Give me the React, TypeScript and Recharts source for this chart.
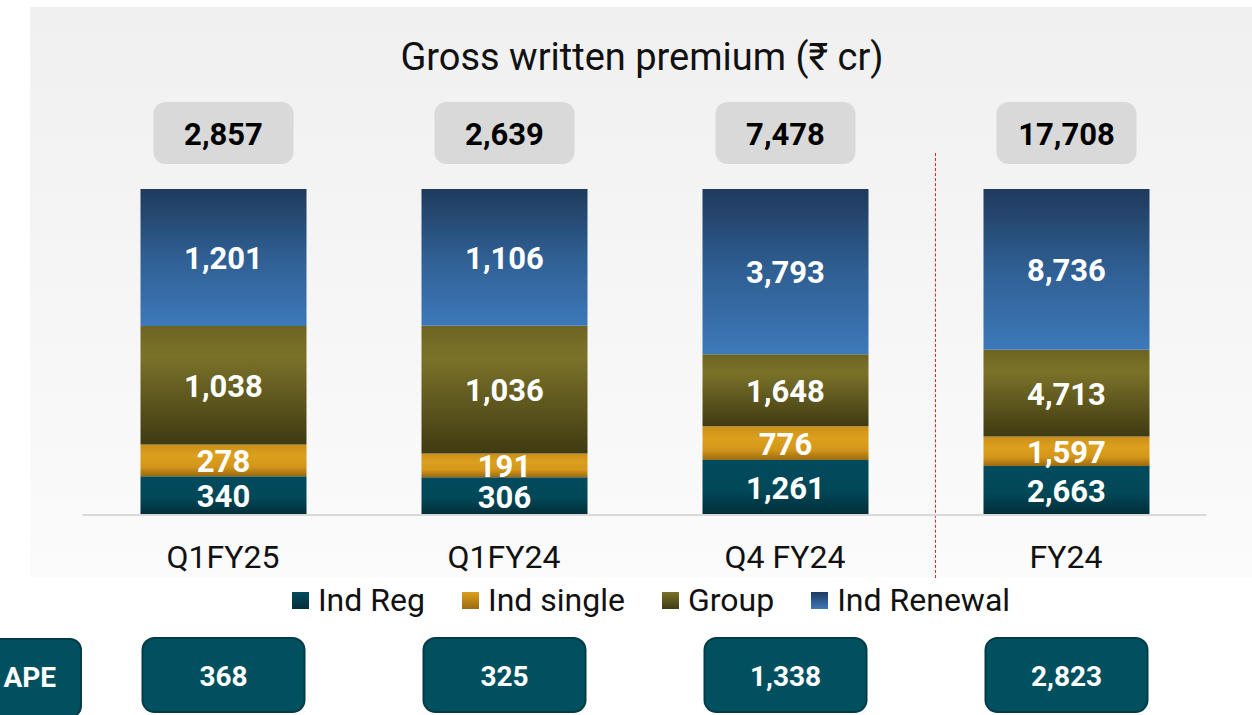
import { Bar, BarChart, LabelList, Legend, XAxis, YAxis } from 'recharts';

const CATEGORIES = ['Q1FY25', 'Q1FY24', 'Q4 FY24', 'FY24'];
const IND_REG = [340, 306, 1261, 2663];
const IND_SINGLE = [278, 191, 776, 1597];
const GROUP = [1038, 1036, 1648, 4713];
const IND_RENEWAL = [1201, 1106, 3793, 8736];
const TOTALS = [2857, 2639, 7478, 17708];
const APE = [368, 325, 1338, 2823];

const SERIES = [
  { key: 'indReg', name: 'Ind Reg', grad: 'gReg', values: IND_REG, css: 'linear-gradient(#024b5c, #012f3b)' },
  { key: 'indSingle', name: 'Ind single', grad: 'gSingle', values: IND_SINGLE, css: 'linear-gradient(#dca01e, #9c6a0f)' },
  { key: 'group', name: 'Group', grad: 'gGroup', values: GROUP, css: 'linear-gradient(#7b7229, #3f3a12)' },
  { key: 'indRenewal', name: 'Ind Renewal', grad: 'gRenewal', values: IND_RENEWAL, css: 'linear-gradient(#1f3b5e, #3d79b9)' },
];

const chartData = CATEGORIES.map((name, i) => ({
  name,
  indReg: IND_REG[i],
  indSingle: IND_SINGLE[i],
  group: GROUP[i],
  indRenewal: IND_RENEWAL[i],
}));

const fmt = (v: number) => v.toLocaleString('en-US');

const segmentLabel = (values: number[]) => (props: any) => {
  const vb = props.viewBox ?? props;
  const v = values[props.index] ?? props.value;
  return (
    <text
      x={vb.x + vb.width / 2}
      y={vb.y + vb.height / 2 + 1}
      textAnchor="middle"
      dominantBaseline="central"
      fill="#fff"
      fontSize={31}
      fontWeight={700}
    >
      {fmt(v)}
    </text>
  );
};

const totalLabel = (props: any) => {
  const vb = props.viewBox ?? props;
  const cx = vb.x + vb.width / 2;
  return (
    <g>
      <rect x={cx - 70} y={vb.y - 87} width={140} height={62} rx={12} fill="#d9d9d9" />
      <text
        x={cx}
        y={vb.y - 55}
        textAnchor="middle"
        dominantBaseline="central"
        fill="#000"
        fontSize={31}
        fontWeight={700}
      >
        {fmt(TOTALS[props.index])}
      </text>
    </g>
  );
};

const apeLabel = (props: any) => {
  const vb = props.viewBox ?? props;
  const cx = vb.x + vb.width / 2;
  const bottom = vb.y + vb.height;
  return (
    <g>
      <rect
        x={cx - 81}
        y={bottom + 123}
        width={162}
        height={74}
        rx={12}
        fill="#01505f"
        stroke="#003c48"
        strokeWidth={2}
      />
      <text
        x={cx}
        y={bottom + 161}
        textAnchor="middle"
        dominantBaseline="central"
        fill="#fff"
        fontSize={28}
        fontWeight={700}
      >
        {fmt(APE[props.index])}
      </text>
    </g>
  );
};

function LegendBox() {
  return (
    <div
      style={{
        display: 'flex',
        justifyContent: 'center',
        alignItems: 'center',
        height: 40,
        paddingLeft: 50,
        fontSize: 32,
        color: '#111',
      }}
    >
      {SERIES.map((s, i) => (
        <div
          key={s.key}
          style={{ display: 'flex', alignItems: 'center', marginRight: i < SERIES.length - 1 ? 37 : 0 }}
        >
          <span style={{ width: 17, height: 17, background: s.css, marginRight: 9, display: 'inline-block' }} />
          <span>{s.name}</span>
        </div>
      ))}
    </div>
  );
}

export default function App() {
  return (
    <div
      style={{
        position: 'absolute',
        left: 0,
        top: 0,
        width: 1252,
        height: 715,
        overflow: 'hidden',
        background: '#fff',
        fontFamily: 'Roboto, sans-serif',
      }}
    >
      <div
        style={{
          position: 'absolute',
          left: 30,
          top: 7,
          width: 1222,
          height: 570,
          background: 'linear-gradient(#f0f0f0, #fbfbfb)',
        }}
      />
      <div
        style={{
          position: 'absolute',
          left: 30,
          top: 38,
          width: 1224,
          textAlign: 'center',
          fontSize: 38,
          lineHeight: '38px',
          color: '#111',
        }}
      >
        Gross written premium (₹ cr)
      </div>
      <div
        style={{
          position: 'absolute',
          left: 935,
          top: 153,
          height: 425,
          borderLeft: '1px dashed #ff1a1a',
        }}
      />
      <div style={{ position: 'absolute', left: 0, top: 0 }}>
        <BarChart
          width={1252}
          height={715}
          data={chartData}
          stackOffset="expand"
          margin={{ top: 189, right: 45.5, left: 82.5, bottom: 95 }}
        >
          <defs>
            <linearGradient id="gReg" x1="0" y1="0" x2="0" y2="1">
              <stop offset="0" stopColor="#024b5c" />
              <stop offset="0.55" stopColor="#014859" />
              <stop offset="1" stopColor="#012d38" />
            </linearGradient>
            <linearGradient id="gSingle" x1="0" y1="0" x2="0" y2="1">
              <stop offset="0" stopColor="#c98f18" />
              <stop offset="0.35" stopColor="#dca01e" />
              <stop offset="0.7" stopColor="#d3961a" />
              <stop offset="1" stopColor="#9c6a0f" />
            </linearGradient>
            <linearGradient id="gGroup" x1="0" y1="0" x2="0" y2="1">
              <stop offset="0" stopColor="#6d6423" />
              <stop offset="0.25" stopColor="#7b7229" />
              <stop offset="1" stopColor="#3f3a12" />
            </linearGradient>
            <linearGradient id="gRenewal" x1="0" y1="0" x2="0" y2="1">
              <stop offset="0" stopColor="#1f3a5c" />
              <stop offset="0.5" stopColor="#2f5f93" />
              <stop offset="1" stopColor="#3d79b9" />
            </linearGradient>
          </defs>
          <XAxis
            dataKey="name"
            height={65}
            tickLine={false}
            tickMargin={24}
            axisLine={{ stroke: '#d9d9d9', strokeWidth: 2 }}
            tick={{ fill: '#111', fontSize: 32 }}
          />
          <YAxis hide domain={[0, 1]} />
          <Legend verticalAlign="bottom" height={40} wrapperStyle={{ left: 0, width: 1252 }} content={() => <LegendBox />} />
          {SERIES.map((s) => (
            <Bar
              key={s.key}
              dataKey={s.key}
              name={s.name}
              stackId="a"
              barSize={166}
              fill={`url(#${s.grad})`}
              isAnimationActive={false}
            >
              <LabelList dataKey={s.key} content={segmentLabel(s.values)} />
              {s.key === 'indRenewal' && <LabelList dataKey={s.key} content={totalLabel} />}
              {s.key === 'indReg' && <LabelList dataKey={s.key} content={apeLabel} />}
            </Bar>
          ))}
        </BarChart>
      </div>
      <div
        style={{
          position: 'absolute',
          left: -80,
          top: 638,
          width: 162,
          height: 80,
          borderRadius: 12,
          background: '#01505f',
          border: '2px solid #003c48',
          boxSizing: 'border-box',
        }}
      >
        <span
          style={{
            position: 'absolute',
            right: 24,
            top: 21,
            color: '#fff',
            fontSize: 28,
            fontWeight: 700,
            lineHeight: '34px',
          }}
        >
          APE
        </span>
      </div>
    </div>
  );
}
